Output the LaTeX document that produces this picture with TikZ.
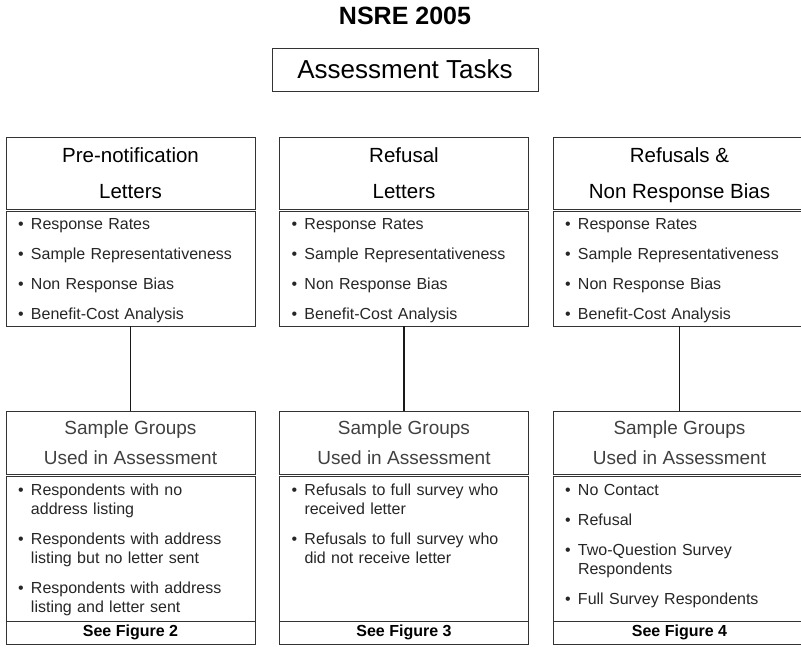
\documentclass[tikz,border=0pt]{standalone}
\usepackage{fontspec}
\setmainfont{Liberation Sans}
\usetikzlibrary{positioning}

\newcommand{\bitem}[1]{\hangindent=13pt\hangafter=1\noindent\makebox[13pt][l]{\textbullet}#1\par}

\begin{document}
\begin{tikzpicture}[x=1pt, y=-1pt, node distance=2pt]

    \tikzstyle{titlebox} = [rectangle, draw=black!80, line width=0.8pt, minimum width=266pt, minimum height=43pt, inner sep=0pt, outer sep=0pt, font=\fontsize{26}{30}\selectfont]
    \tikzstyle{headbox} = [rectangle, draw=black!80, line width=0.8pt, minimum width=249pt, minimum height=72pt, align=center, inner sep=0pt, outer sep=0pt, text height=51pt, text depth=0pt, font=\fontsize{20.5}{36}\selectfont]
    \tikzstyle{listbox} = [rectangle, draw=black!80, line width=0.8pt, text width=225pt, inner xsep=12pt, inner ysep=8pt, outer sep=0pt, align=left, text height=11pt, text depth=88pt, text=black!85, font=\fontsize{16}{19}\selectfont, execute at begin node={\parskip=11pt}]
    \tikzstyle{groupbox} = [headbox, minimum height=63pt, text height=44pt, text depth=0pt, text=black!75, font=\fontsize{19}{30}\selectfont]
    \tikzstyle{figbox} = [rectangle, draw=black!80, line width=0.8pt, minimum width=249pt, minimum height=23pt, inner sep=0pt, outer sep=0pt, font=\fontsize{16}{19}\selectfont\bfseries]
    \tikzstyle{edgecol} = [minimum width=253pt]
    \tikzstyle{link} = [line width=1.6pt, black!90]

    \useasboundingbox (0,0) rectangle (801,655);

    % Nodes
    \node (title) at (405,16) [font=\fontsize{25}{30}\selectfont\bfseries] {NSRE 2005};
    \node (tasks) at (405,69.5) [titlebox] {Assessment Tasks};

    \node (prenote) at (130.5,173) [headbox] {Pre-notification\\Letters};
    \node (refusal) [headbox, right=24.5pt of prenote] {Refusal\\Letters};
    \node (nonresp) [headbox, edgecol, right=24.5pt of refusal] {Refusals \&\\Non Response Bias};

    \node (prenotetasks) [listbox, below=of prenote] {\bitem{Response Rates}\bitem{Sample Representativeness}\bitem{Non Response Bias}\bitem{Benefit-Cost Analysis}};
    \node (refusaltasks) [listbox, below=of refusal] {\bitem{Response Rates}\bitem{Sample Representativeness}\bitem{Non Response Bias}\bitem{Benefit-Cost Analysis}};
    \node (nonresptasks) [listbox, text width=229pt, below=of nonresp] {\bitem{Response Rates}\bitem{Sample Representativeness}\bitem{Non Response Bias}\bitem{Benefit-Cost Analysis}};

    \node (prenotegroups) [groupbox, below=85pt of prenotetasks] {Sample Groups\\Used in Assessment};
    \node (refusalgroups) [groupbox, below=85pt of refusaltasks] {Sample Groups\\Used in Assessment};
    \node (nonrespgroups) [groupbox, edgecol, below=85pt of nonresptasks] {Sample Groups\\Used in Assessment};

    \node (prenotesample) [listbox, text depth=118pt, below=of prenotegroups] {\bitem{Respondents with no\newline address listing}\bitem{Respondents with address\newline listing but no letter sent}\bitem{Respondents with address\newline listing and letter sent}};
    \node (refusalsample) [listbox, text depth=118pt, below=of refusalgroups] {\bitem{Refusals to full survey who\newline received letter}\bitem{Refusals to full survey who\newline did not receive letter}};
    \node (nonrespsample) [listbox, text width=229pt, text depth=118pt, below=of nonrespgroups] {\bitem{No Contact}\bitem{Refusal}\bitem{Two-Question Survey\newline Respondents}\bitem{Full Survey Respondents}};

    \node (prenotefig) [figbox, below=0pt of prenotesample] {See Figure 2};
    \node (refusalfig) [figbox, below=0pt of refusalsample] {See Figure 3};
    \node (nonrespfig) [figbox, edgecol, below=0pt of nonrespsample] {See Figure 4};

    % Connectors
    \draw [link] (prenotetasks) -- (prenotegroups);
    \draw [link] (refusaltasks) -- (refusalgroups);
    \draw [link] (nonresptasks) -- (nonrespgroups);

\end{tikzpicture}
\end{document}
